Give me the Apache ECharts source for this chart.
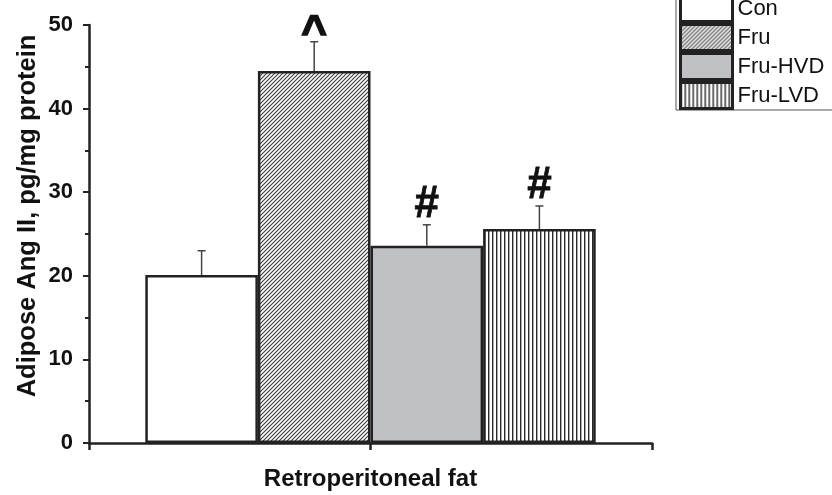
<!DOCTYPE html>
<html><head><meta charset="utf-8">
<script src="https://cdn.jsdelivr.net/npm/echarts@6/dist/echarts.min.js"></script>
<style>html,body{margin:0;padding:0;background:#fff}#c{width:832px;height:495px}</style>
</head><body><div id="c"></div>
<script>
const categories = ['Retroperitoneal fat'];
const groups = ['Con', 'Fru', 'Fru-HVD', 'Fru-LVD'];
const means = [20.1, 44.5, 23.6, 25.6];
const sems = [2.9, 3.5, 2.5, 2.75];
const sigMarks = ['', '^', '#', '#'];
const yTicks = [0, 10, 20, 30, 40, 50];

const FONT = "'Liberation Sans', Arial, Helvetica, sans-serif";
const INK = '#222';

function hatchPattern() {
  const c = document.createElement('canvas'); c.width = 4; c.height = 4;
  const g = c.getContext('2d');
  g.fillStyle = '#fff'; g.fillRect(0, 0, 4, 4);
  g.strokeStyle = '#3a3a3a'; g.lineWidth = 1.1;
  g.beginPath();
  g.moveTo(-1, 5); g.lineTo(5, -1);
  g.moveTo(-1, 1); g.lineTo(1, -1);
  g.moveTo(3, 5); g.lineTo(5, 3);
  g.stroke();
  return { image: c, repeat: 'repeat' };
}
function vlinePattern() {
  const c = document.createElement('canvas'); c.width = 4; c.height = 4;
  const g = c.getContext('2d');
  g.fillStyle = '#fff'; g.fillRect(0, 0, 4, 4);
  g.fillStyle = '#2a2a2a'; g.fillRect(0, 0, 1.4, 4);
  return { image: c, repeat: 'repeat' };
}
const fills = ['#ffffff', hatchPattern(), '#c0c1c4', vlinePattern()];

const chart = echarts.init(document.getElementById('c'), null, { renderer: 'canvas' });

const barSeries = groups.map((name, i) => ({
  name: name,
  type: 'bar',
  xAxisIndex: 0,
  barGap: '0%',
  barCategoryGap: '20%',
  data: [means[i]],
  itemStyle: { color: fills[i], borderColor: INK, borderWidth: 2.5 },
  emphasis: { disabled: true },
  z: 2
}));

const errData = groups.map((g, i) => ({ value: [0, means[i] + sems[i], means[i]] }));

const errSeries = {
  type: 'custom',
  xAxisIndex: 0,
  z: 5,
  silent: true,
  data: errData,
  renderItem: function (params, api) {
    const i = params.dataIndex;
    const c0 = api.coord([0, api.value(2)]);
    const c1 = api.coord([0, api.value(1)]);
    const bw = api.size([1, 0])[0] * 0.8 / groups.length;
    const x = c0[0] + (i - (groups.length - 1) / 2) * bw;
    const children = [
      { type: 'line', shape: { x1: x, y1: c0[1], x2: x, y2: c1[1] }, style: { stroke: '#444', lineWidth: 1.5 } },
      { type: 'line', shape: { x1: x - 4, y1: c1[1], x2: x + 4, y2: c1[1] }, style: { stroke: '#444', lineWidth: 1.5 } }
    ];
    const m = sigMarks[i];
    if (m) {
      const dy = m === '^' ? 8 : 20;
      children.push({
        type: 'text',
        style: { text: m, x: x, y: c1[1] - dy, align: 'center', verticalAlign: 'middle',
          font: 'bold 44px ' + FONT, fill: '#111', stroke: '#111', lineWidth: m === '^' ? 1.5 : 0.8 }
      });
    }
    return { type: 'group', children: children };
  }
};

chart.setOption({
  animation: false,
  backgroundColor: '#fff',
  grid: { left: 89, right: 180, top: 25, bottom: 52, outerBoundsMode: 'none', containLabel: false },
  legend: {
    data: groups,
    orient: 'vertical',
    left: 676,
    top: -11,
    padding: [5, 40, 0, 3],
    itemWidth: 52,
    itemHeight: 26,
    itemGap: 0,
    icon: 'rect',
    itemStyle: { borderColor: INK, borderWidth: 3 },
    borderColor: '#555',
    borderWidth: 1,
    textStyle: { fontFamily: FONT, fontSize: 22, color: '#111' }
  },
  xAxis: [
    {
      type: 'category',
      data: categories,
      position: 'bottom',
      axisLine: { lineStyle: { color: INK, width: 2.5 } },
      axisTick: { show: false },
      axisLabel: { show: false },
      name: categories[0],
      nameLocation: 'middle',
      nameGap: 24,
      nameTextStyle: { fontFamily: FONT, fontSize: 24, fontWeight: 'bold', color: '#111' }
    },
    {
      type: 'value',
      position: 'bottom',
      offset: 0,
      min: 0, max: 2, interval: 1,
      axisLine: { show: false },
      axisTick: { show: true, length: 7, lineStyle: { color: INK, width: 2.5 } },
      axisLabel: { show: false },
      splitLine: { show: false }
    }
  ],
  yAxis: {
    type: 'value',
    min: yTicks[0], max: yTicks[yTicks.length - 1], interval: 10,
    axisLine: { show: true, lineStyle: { color: INK, width: 2.5 } },
    axisTick: { show: true, length: 6, lineStyle: { color: INK, width: 2 } },
    minorTick: { show: true, splitNumber: 2, length: 4, lineStyle: { color: INK, width: 2 } },
    splitLine: { show: false },
    axisLabel: { margin: 16, fontFamily: FONT, fontSize: 22, fontWeight: 'bold', color: '#111' }
  },
  graphic: [{
    type: 'text',
    x: 28, y: 216,
    rotation: Math.PI / 2,
    style: { text: 'Adipose Ang II, pg/mg protein', align: 'center', verticalAlign: 'middle',
      font: 'bold 25.5px ' + FONT, fill: '#111' }
  }],
  series: barSeries.concat([errSeries])
});
</script></body></html>
